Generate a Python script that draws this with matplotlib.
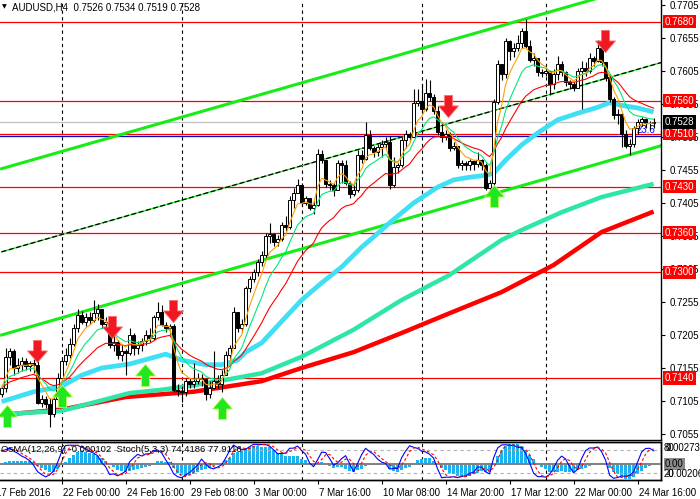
import numpy as np
import pandas as pd
import matplotlib
matplotlib.use("Agg")
import matplotlib.pyplot as plt
from matplotlib.path import Path
from matplotlib.transforms import blended_transform_factory

plt.rcParams['font.family'] = ['Liberation Sans', 'DejaVu Sans']

# AUDUSD H4, first visible bar = 17 Feb 2016 12:00 (bar index 0)
first_open = 0.7115
closes = [
    0.7125, 0.7172, 0.7180, 0.7155, 0.7160, 0.7166, 0.7158, 0.7162, 0.7160, 0.7102,
    0.7108, 0.7100, 0.7085, 0.7108, 0.7140, 0.7165, 0.7175, 0.7192, 0.7215, 0.7235,
    0.7225, 0.7232, 0.7228, 0.7238, 0.7245, 0.7222, 0.7225, 0.7190, 0.7195, 0.7175,
    0.7180, 0.7178, 0.7205, 0.7185, 0.7190, 0.7196, 0.7205, 0.7200, 0.7232, 0.7240,
    0.7220, 0.7215, 0.7218, 0.7122, 0.7120, 0.7118, 0.7135, 0.7130, 0.7135, 0.7140,
    0.7138, 0.7115, 0.7125, 0.7135, 0.7130, 0.7145, 0.7175, 0.7185, 0.7240, 0.7215,
    0.7222, 0.7276, 0.7290, 0.7300, 0.7315, 0.7326, 0.7355, 0.7358, 0.7346, 0.7350,
    0.7372, 0.7368, 0.7410, 0.7420, 0.7432, 0.7405, 0.7412, 0.7398, 0.7402, 0.7480,
    0.7470, 0.7434, 0.7432, 0.7425, 0.7465, 0.7462, 0.7436, 0.7418, 0.7425, 0.7478,
    0.7472, 0.7508, 0.7488, 0.7482, 0.7490, 0.7494, 0.7498, 0.7432, 0.7460, 0.7462,
    0.7500, 0.7510, 0.7505, 0.7556, 0.7560, 0.7548, 0.7572, 0.7565, 0.7545, 0.7512,
    0.7505, 0.7510, 0.7488, 0.7492, 0.7462, 0.7465, 0.7462, 0.7468, 0.7464, 0.7470,
    0.7462, 0.7428, 0.7435, 0.7558, 0.7615, 0.7600, 0.7650, 0.7635, 0.7640, 0.7648,
    0.7665, 0.7643, 0.7622, 0.7625, 0.7603, 0.7602, 0.7605, 0.7585, 0.7600, 0.7615,
    0.7603, 0.7588, 0.7585, 0.7580, 0.7605, 0.7610, 0.7605, 0.7625, 0.7620, 0.7640,
    0.7618, 0.7595, 0.7562, 0.7538, 0.7540, 0.7510, 0.7492, 0.7495, 0.7518, 0.7528,
    0.7532, 0.7526, 0.7526, 0.7528,
]
highs = [
    0.7129, 0.7185, 0.7186, 0.7184, 0.7170, 0.7172, 0.7170, 0.7166, 0.7168, 0.7165,
    0.7114, 0.7112, 0.7110, 0.7112, 0.7148, 0.7170, 0.7185, 0.7200, 0.7222, 0.7245,
    0.7242, 0.7238, 0.7240, 0.7258, 0.7252, 0.7244, 0.7232, 0.7228, 0.7205, 0.7198,
    0.7190, 0.7184, 0.7215, 0.7208, 0.7196, 0.7200, 0.7212, 0.7215, 0.7236, 0.7255,
    0.7250, 0.7225, 0.7222, 0.7222, 0.7130, 0.7128, 0.7140, 0.7140, 0.7162, 0.7148,
    0.7146, 0.7140, 0.7136, 0.7180, 0.7145, 0.7152, 0.7180, 0.7190, 0.7247, 0.7240,
    0.7230, 0.7280, 0.7295, 0.7305, 0.7320, 0.7332, 0.7360, 0.7374, 0.7360, 0.7356,
    0.7376, 0.7385, 0.7415, 0.7428, 0.7442, 0.7435, 0.7416, 0.7412, 0.7408, 0.7487,
    0.7485, 0.7470, 0.7440, 0.7436, 0.7470, 0.7470, 0.7470, 0.7438, 0.7432, 0.7485,
    0.7485, 0.7527, 0.7515, 0.7492, 0.7494, 0.7500, 0.7505, 0.7506, 0.7475, 0.7466,
    0.7505, 0.7515, 0.7512, 0.7578, 0.7578, 0.7585, 0.7593, 0.7592, 0.7570, 0.7552,
    0.7528, 0.7515, 0.7512, 0.7498, 0.7490, 0.7470, 0.7468, 0.7472, 0.7470, 0.7482,
    0.7472, 0.7465, 0.7440, 0.7562, 0.7622, 0.7615, 0.7655, 0.7652, 0.7648, 0.7660,
    0.7670, 0.7684, 0.7652, 0.7632, 0.7625, 0.7608, 0.7610, 0.7605, 0.7608, 0.7628,
    0.7620, 0.7605, 0.7592, 0.7588, 0.7610, 0.7620, 0.7618, 0.7632, 0.7628, 0.7652,
    0.7646, 0.7615, 0.7598, 0.7565, 0.7548, 0.7542, 0.7515, 0.7502, 0.7522, 0.7532,
    0.7536, 0.7534, 0.7530, 0.7534,
]
lows = [
    0.7111, 0.7119, 0.7160, 0.7145, 0.7148, 0.7150, 0.7152, 0.7150, 0.7148, 0.7100,
    0.7096, 0.7094, 0.7066, 0.7080, 0.7105, 0.7138, 0.7160, 0.7170, 0.7188, 0.7210,
    0.7222, 0.7218, 0.7222, 0.7225, 0.7228, 0.7215, 0.7212, 0.7185, 0.7180, 0.7168,
    0.7165, 0.7145, 0.7175, 0.7175, 0.7176, 0.7180, 0.7190, 0.7195, 0.7198, 0.7228,
    0.7218, 0.7210, 0.7205, 0.7118, 0.7112, 0.7103, 0.7112, 0.7125, 0.7125, 0.7130,
    0.7128, 0.7106, 0.7110, 0.7125, 0.7125, 0.7118, 0.7145, 0.7168, 0.7185, 0.7210,
    0.7210, 0.7218, 0.7270, 0.7285, 0.7295, 0.7310, 0.7322, 0.7345, 0.7340, 0.7340,
    0.7348, 0.7362, 0.7365, 0.7398, 0.7420, 0.7400, 0.7402, 0.7394, 0.7388, 0.7400,
    0.7465, 0.7430, 0.7425, 0.7415, 0.7424, 0.7435, 0.7432, 0.7412, 0.7415, 0.7422,
    0.7466, 0.7470, 0.7485, 0.7475, 0.7476, 0.7475, 0.7488, 0.7426, 0.7430, 0.7450,
    0.7460, 0.7488, 0.7498, 0.7505, 0.7552, 0.7545, 0.7545, 0.7560, 0.7540, 0.7508,
    0.7498, 0.7500, 0.7484, 0.7485, 0.7458, 0.7455, 0.7455, 0.7455, 0.7455, 0.7460,
    0.7455, 0.7425, 0.7420, 0.7430, 0.7555, 0.7592, 0.7595, 0.7622, 0.7626, 0.7636,
    0.7640, 0.7640, 0.7618, 0.7612, 0.7598, 0.7596, 0.7598, 0.7568, 0.7578, 0.7592,
    0.7598, 0.7582, 0.7578, 0.7574, 0.7580, 0.7548, 0.7598, 0.7602, 0.7612, 0.7618,
    0.7612, 0.7590, 0.7558, 0.7532, 0.7525, 0.7490, 0.7488, 0.7478, 0.7490, 0.7510,
    0.7522, 0.7518, 0.7515, 0.7519,
]

# slow moving averages at a few bars
cyan_bars = [0, 8, 15, 20, 25, 32, 41, 45, 51, 55, 59, 61, 65, 75, 80, 85, 90, 95, 97,
             103, 109, 113, 117, 121, 123, 126, 130, 134, 139, 144, 149, 152, 155, 159, 163]
cyan_vals = [0.7104, 0.7119, 0.7127, 0.7144, 0.7155, 0.7161, 0.7176, 0.7167, 0.7160, 0.7160,
             0.7167, 0.7179, 0.7193, 0.7258, 0.7284, 0.7308, 0.7338, 0.7364, 0.7375,
             0.7405, 0.7429, 0.7440, 0.7444, 0.7447, 0.7450, 0.7470, 0.7493, 0.7511, 0.7531,
             0.7541, 0.7550, 0.7557, 0.7553, 0.7549, 0.7543]
teal_bars = [0, 15, 32, 40, 48, 56, 65, 75, 88, 100, 112, 125, 130, 140, 150, 163]
teal_vals = [0.7085, 0.7090, 0.7117, 0.7122, 0.7129, 0.7137, 0.7147, 0.7172, 0.7213,
             0.7258, 0.7296, 0.7349, 0.7364, 0.7391, 0.7414, 0.7434]
red_bars = [0, 15, 31, 48, 65, 75, 88, 100, 112, 125, 138, 150, 163]
red_vals = [0.7084, 0.7092, 0.7111, 0.7119, 0.7135, 0.7155, 0.7179, 0.7208, 0.7238,
            0.7270, 0.7311, 0.7361, 0.7392]

levels = [0.7680, 0.7560, 0.7510, 0.7430, 0.7360, 0.7300, 0.7140]
bid = 0.7528
fibo_level = 0.7507

chan_bars = [0, 165]
chan_low = [0.7205, 0.7492]
chan_mid = [0.7331, 0.7618]
chan_up = [0.7457, 0.7743]

sell_bars = [8.75, 27.5, 42.75, 111.6, 150.75]
sell_prices = [0.7181, 0.7217, 0.7241, 0.7552, 0.7650]
buy_bars = [1.25, 15, 35.75, 55, 123]
buy_prices = [0.7082, 0.7113, 0.7144, 0.7095, 0.7416]

week_bars = [15, 45, 75, 105, 136]
tick_bars = [-1.8, 15, 31, 47, 63, 79, 95, 111, 127, 143, 159]
tick_labels = ['17 Feb 2016', '22 Feb 00:00', '24 Feb 16:00', '29 Feb 08:00', '3 Mar 00:00',
               '7 Mar 16:00', '10 Mar 08:00', '14 Mar 20:00', '17 Mar 12:00',
               '22 Mar 00:00', '24 Mar 16:00']

# ---- derived ----
c = pd.Series(closes)
h = pd.Series(highs)
l = pd.Series(lows)
o = pd.Series([first_open] + closes[:-1])  # H4 bars open at previous close
bars = np.arange(len(closes))

ema5 = c.ewm(span=5, adjust=False).mean()
ema10 = c.ewm(span=10, adjust=False).mean()
ema21 = c.ewm(span=21, adjust=False).mean()

macd = c.ewm(span=12, adjust=False).mean() - c.ewm(span=26, adjust=False).mean()
osma = macd - macd.rolling(9, min_periods=1).mean()
ll = l.rolling(5, min_periods=1).min()
hh = h.rolling(5, min_periods=1).max()
stoch_k = (c - ll).rolling(3, min_periods=1).sum() / (hh - ll).rolling(3, min_periods=1).sum() * 100
stoch_d = stoch_k.rolling(3, min_periods=1).mean()

# ---- figure ----
fig = plt.figure(figsize=(7.0, 4.99), dpi=100)
px = 1 / 700
py = 1 / 499
ax = fig.add_axes([0, 1 - 440 * py, 661 * px, 440 * py])
ax2 = fig.add_axes([0, 1 - 480 * py, 661 * px, 38 * py])

xmin, xmax = -0.4, 164.85
ax.set_xlim(xmin, xmax)
ax.set_ylim(0.70459, 0.77126)

for b in week_bars:
    ax.axvline(b, color='black', lw=0.8, ls=(0, (3, 3)), zorder=1)
    ax2.axvline(b, color='black', lw=0.8, ls=(0, (3, 3)), zorder=1)

for lv in levels:
    ax.axhline(lv, color='red', lw=0.9, zorder=2)
ax.axhline(bid, color='#c0c0c0', lw=0.9, zorder=2)
ax.axhline(fibo_level, color='#0000cc', lw=0.9, zorder=2)
ax.text(163.5, fibo_level + 0.00015, '23.6', color='#0000ff', fontsize=7,
        ha='right', va='bottom', zorder=2)

# channel
ax.plot(chan_bars, chan_low, color='#16ec16', lw=2.2, zorder=2)
ax.plot(chan_bars, chan_up, color='#16ec16', lw=2.2, zorder=2)
ax.plot(chan_bars, chan_mid, color='#22ee22', lw=1.0, zorder=2)
ax.plot(chan_bars, chan_mid, color='black', lw=0.9, ls=(0, (4, 2)), zorder=2)

# slow MAs
ax.plot(red_bars, red_vals, color='#ff0000', lw=3.2, zorder=4, solid_capstyle='butt')
ax.plot(teal_bars, teal_vals, color='#2ee6a6', lw=3.2, zorder=4, solid_capstyle='butt')
ax.plot(cyan_bars, cyan_vals, color='#3fdff5', lw=3.4, zorder=4, solid_capstyle='butt')

# candles
ax.vlines(bars, l, h, color='black', lw=0.8, zorder=5)
up = c >= o
ax.bar(bars, (c - o).abs().clip(lower=0.00004), bottom=np.minimum(o, c), width=0.62,
       color=np.where(up, 'white', 'black'), edgecolor='black', linewidth=0.7, zorder=6)

# fast MAs
ax.plot(bars, ema21, color='#ff0000', lw=0.8, zorder=7)
ax.plot(bars, ema10, color='#00e87a', lw=0.8, zorder=7)
ax.plot(bars, ema5, color='#ffa000', lw=0.8, zorder=7)

# signal arrows
down_arrow = Path([(-0.36, 1), (0.36, 1), (0.36, 0.05), (0.9, 0.05), (0, -1),
                   (-0.9, 0.05), (-0.36, 0.05), (-0.36, 1)], closed=True)
up_arrow = Path([(x, -y) for x, y in down_arrow.vertices], closed=True)
ax.plot(sell_bars, sell_prices, ls='none', marker=down_arrow, ms=16,
        mfc='#f01822', mec='#ff7070', mew=0.6, zorder=9)
ax.plot(buy_bars, buy_prices, ls='none', marker=up_arrow, ms=16,
        mfc='#22e622', mec='#c0ff50', mew=0.6, zorder=9)

# right price axis
ax.yaxis.tick_right()
ax.set_yticks(np.arange(0.7055, 0.7706, 0.005))
ax.yaxis.set_major_formatter(matplotlib.ticker.FormatStrFormatter('%.4f'))
ax.tick_params(axis='y', length=3, width=0.8, pad=3, labelsize=7, colors='black')
ax.set_xticks([])
for s in ['left', 'top']:
    ax.spines[s].set_visible(False)
for s in ['right', 'bottom']:
    ax.spines[s].set_linewidth(1.0)

tr = blended_transform_factory(ax.transAxes, ax.transData)
for lv in levels:
    ax.text(1.006, lv, f'{lv:.4f}', transform=tr, color='white', fontsize=7,
            ha='left', va='center', clip_on=False, zorder=10,
            bbox=dict(boxstyle='square,pad=0.18', fc='#ff0000', ec='none'))
ax.text(1.006, bid, f'{bid:.4f}', transform=tr, color='white', fontsize=7,
        ha='left', va='center', clip_on=False, zorder=10,
        bbox=dict(boxstyle='square,pad=0.18', fc='black', ec='none'))

fig.text(2 * px, 1 - 7 * py, '\u25bc', fontsize=4.5, va='center', ha='left',
         family='DejaVu Sans')
fig.text(12 * px, 1 - 7 * py, 'AUDUSD,H4  0.7526 0.7534 0.7519 0.7528', fontsize=7,
         va='center', ha='left')

# indicator panel
ax2.set_xlim(xmin, xmax)
ax2.set_ylim(-0.00206, 0.002738)
ax2.bar(bars, osma, width=0.62, color='#1cb4f0', zorder=2)
ax2.axhline(0, color='#808080', lw=1.4, zorder=3)
ax3 = ax2.twinx()
ax3.set_ylim(0.9, 101.8)
ax3.axhline(80, color='#b0b0b0', lw=0.8, ls=(0, (3, 3)))
ax3.axhline(20, color='#b0b0b0', lw=0.8, ls=(0, (3, 3)))
ax3.plot(bars, stoch_k, color='#0000ff', lw=0.8, zorder=4)
ax3.plot(bars, stoch_d, color='#ff0000', lw=0.8, ls=(0, (2.5, 2)), zorder=4)
ax3.set_yticks([])
ax2.set_yticks([])
for a in (ax2, ax3):
    a.spines['left'].set_visible(False)
    for s in ['top', 'right', 'bottom']:
        a.spines[s].set_linewidth(1.0)

ax2.set_xticks(tick_bars[1:])
ax2.set_xticklabels([])
ax2.tick_params(axis='x', length=3, width=0.8)
trx = blended_transform_factory(ax2.transData, ax2.transAxes)
for b, lab in zip(tick_bars, tick_labels):
    ax2.text(b + 0.3, -0.22, lab, transform=trx, fontsize=7, ha='left', va='top',
             clip_on=False)

fig.text(1 * px, 1 - 450 * py, 'OsMA(12,26,9) -0.000102  Stoch(5,3,3) 74.4186 77.9116',
         fontsize=6.8, va='center', ha='left')
fig.text(666 * px, 1 - 448 * py, '0.002738', fontsize=7, va='center', ha='left')
fig.text(664 * px, 1 - 448 * py, '80', fontsize=7, va='center', ha='left')
fig.text(665 * px, 1 - 464 * py, '0.00', fontsize=7, va='center', ha='left',
         bbox=dict(boxstyle='square,pad=0.12', fc='#8a8a8a', ec='none'))
fig.text(666 * px, 1 - 474 * py, '-0.00206', fontsize=7, va='center', ha='left')
fig.text(664 * px, 1 - 474 * py, '20', fontsize=7, va='center', ha='left')

fig.savefig('out.png', dpi=100)
